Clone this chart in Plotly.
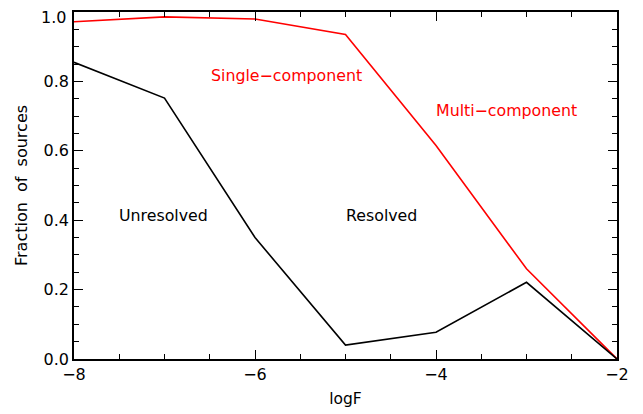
import plotly.graph_objects as go

logF = [-8, -7, -6, -5, -4, -3, -2]
single_frac = [0.972, 0.986, 0.98, 0.935, 0.615, 0.26, 0.0]
resolved_frac = [0.855, 0.752, 0.35, 0.04, 0.077, 0.221, 0.0]

y_tickvals = [0.0, 0.2, 0.4, 0.6, 0.8, 1.0]
y_ticktext = ["0.0", "0.2", "0.4", "0.6", "0.8", ""]
top_label = "1.0"

labels = ["Single\u2212component", "Multi\u2212component", "Unresolved", "Resolved"]
label_x = [-5.65, -3.22, -7.01, -4.6]
label_y = [0.817, 0.716, 0.413, 0.413]
label_colors = ["red", "red", "black", "black"]

FONT = "DejaVu Sans"

fig = go.Figure()
fig.add_trace(go.Scatter(x=logF, y=single_frac, mode="lines",
                         line=dict(color="red", width=1.6), showlegend=False))
fig.add_trace(go.Scatter(x=logF, y=resolved_frac, mode="lines",
                         line=dict(color="black", width=1.6), showlegend=False))

for t, x, y, c in zip(labels, label_x, label_y, label_colors):
    fig.add_annotation(x=x, y=y, text=t, showarrow=False,
                       font=dict(color=c, size=15.8, family=FONT))

# the topmost y tick label sits just below the top edge (as in the original)
fig.add_annotation(xref="paper", x=0, y=0.983, text=top_label, showarrow=False,
                   xanchor="right", xshift=-6, yanchor="middle",
                   font=dict(color="black", size=16, family=FONT))

axis_common = dict(showline=True, linecolor="black", linewidth=1.5, mirror="ticks",
                   ticks="inside", ticklen=9, tickwidth=1.3, tickcolor="black",
                   showgrid=False, zeroline=False,
                   tickfont=dict(size=16, color="black", family=FONT))

fig.update_xaxes(range=[-8, -2], dtick=2, tick0=-8,
                 minor=dict(dtick=0.5, ticks="inside", ticklen=5, tickcolor="black", tickwidth=1.2),
                 title=dict(text="logF", font=dict(size=15.5, color="black", family=FONT), standoff=10),
                 **axis_common)
fig.update_yaxes(range=[0, 1.0], tickmode="array", tickvals=y_tickvals, ticktext=y_ticktext,
                 minor=dict(dtick=0.05, ticks="inside", ticklen=5, tickcolor="black", tickwidth=1.2),
                 title=dict(text="Fraction  of  sources", font=dict(size=16, color="black", family=FONT), standoff=12),
                 **axis_common)

# page body has an 8px default margin, so compensate in size/margins
fig.update_layout(width=635, height=406, margin=dict(l=66, r=26, t=2, b=55),
                  plot_bgcolor="white", paper_bgcolor="white")
fig.write_html("out.html")
